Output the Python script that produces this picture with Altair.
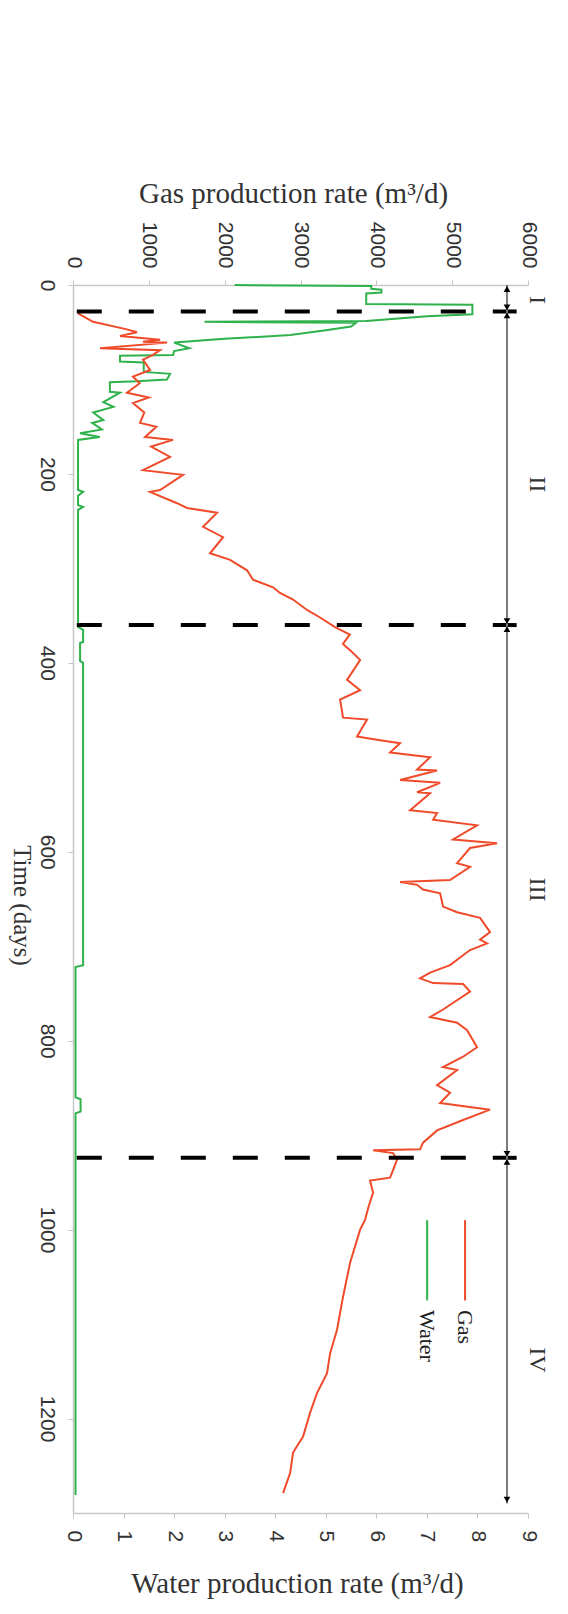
import altair as alt
import pandas as pd

RED = "#ef4a2a"
GREEN = "#2fb24c"
SERIF = "Liberation Serif"
SANS = "Liberation Sans"

# ---- data ----
gas_t = [30, 39, 47, 50, 54, 58, 60, 61, 67, 69, 74, 79, 90, 97, 104, 114, 119, 125, 135, 146,
         150, 161, 164, 171, 182, 196, 201, 217, 219, 231, 236, 241, 256, 267, 284, 291, 302, 312,
         320, 326, 333, 344, 352, 362, 370, 380, 390, 397, 418, 429, 439, 458, 460, 478, 482, 485,
         495, 500, 513, 514, 524, 527, 537, 538, 556, 559, 566, 572, 587, 591, 596, 612, 616, 630,
         632, 635, 640, 644, 658, 664, 670, 685, 693, 697, 704, 720, 728, 734, 739, 740, 748, 767,
         775, 781, 789, 807, 817, 828, 831, 847, 855, 866, 873, 884, 895, 908, 915, 916, 919, 926,
         937, 945, 948, 961, 975, 990, 1000, 1035, 1071, 1106, 1131, 1152, 1173, 1194, 1219, 1236,
         1258, 1279]
gas_v = [66, 264, 712, 844, 620, 1148, 923, 1240, 356, 1148, 1055, 923, 1016, 791, 880, 712, 1000,
         791, 940, 884, 1100, 950, 1319, 1030, 1280, 923, 1451, 1148, 1016, 1372, 1504, 1900, 1715,
         1979, 1807, 2071, 2295, 2374, 2638, 2730, 2902, 3086, 3258, 3450, 3650, 3560, 3700, 3786,
         3614, 3786, 3522, 3561, 3878, 3746, 4050, 4313, 4181, 4709, 4537, 4801, 4313, 4841, 4537,
         4709, 4445, 4801, 4749, 5328, 5012, 5592, 5236, 5065, 5236, 4972, 4313, 4537, 4616, 4841,
         4880, 5065, 5368, 5500, 5368, 5460, 5236, 4972, 4709, 4577, 4749, 5144, 5236, 4880, 4709,
         5065, 5197, 5328, 5144, 4880, 5065, 4801, 4972, 4841, 5500, 5144, 4801, 4616, 4577, 3957,
         4221, 4273, 4221, 4181, 3917, 3957, 3900, 3850, 3786, 3654, 3561, 3482, 3390, 3350, 3218,
         3126, 3034, 2902, 2862, 2770]

water_t = [0, 1, 4, 5, 8, 9, 20, 21, 31, 33, 38, 39, 40, 44, 48, 53, 57, 61, 67, 70, 74, 75, 81,
           82, 92, 94, 100, 102, 103, 113, 114, 124, 129, 135, 143, 146, 153, 157, 161, 164, 217,
           219, 223, 233, 235, 238, 362, 365, 378, 379, 398, 400, 720, 722, 860, 862, 875, 877, 1281]
water_v = [3.2, 5.9, 5.9, 6.1, 6.1, 5.8, 5.8, 7.9, 7.9, 7.0, 5.8, 2.6, 5.6, 5.5, 5.0, 4.3, 3.0,
           2.0, 2.3, 2.0, 1.98, 0.93, 0.93, 1.4, 1.4, 1.92, 1.86, 1.27, 0.73, 0.73, 0.93, 0.6, 0.8,
           0.4, 0.6, 0.38, 0.57, 0.14, 0.53, 0.1, 0.1, 0.2, 0.1, 0.1, 0.2, 0.1, 0.1, 0.2, 0.2, 0.14,
           0.14, 0.2, 0.2, 0.05, 0.05, 0.15, 0.15, 0.05, 0.05]

time_ticks = [0, 200, 400, 600, 800, 1000, 1200]
gas_ticks = [0, 1000, 2000, 3000, 4000, 5000, 6000]
water_ticks = [0, 1, 2, 3, 4, 5, 6, 7, 8, 9]

boundaries = [28, 360, 924]
phase_start = [0, 28, 360, 924]
phase_end = [28, 360, 924, 1290]
phase_names = ["I", "II", "III", "IV"]
phase_label_t = [16, 211, 640, 1138]

legend_names = ["Gas", "Water"]
legend_colors = [RED, GREEN]
legend_x = [5170, 4670]
legend_t0 = 990
legend_t1 = 1075
legend_text_t = 1085

arrow_x = 5723
phase_label_x = 6120
dash_x0 = 50
dash_x1 = 5850

# ---- tables ----
gas_df = pd.DataFrame({"t": gas_t, "v": gas_v})
water_df = pd.DataFrame({"t": water_t, "v": water_v})
bound_df = pd.DataFrame({"t": boundaries, "x0": [dash_x0] * len(boundaries), "x1": [dash_x1] * len(boundaries)})
arrow_df = pd.DataFrame({"t": [phase_start[0]], "t2": [phase_end[-1]], "x": [arrow_x]})
up_df = pd.DataFrame({"t": phase_start, "x": [arrow_x] * len(phase_start)})
down_df = pd.DataFrame({"t": phase_end, "x": [arrow_x] * len(phase_end)})
label_df = pd.DataFrame({"t": phase_label_t, "x": [phase_label_x] * 4, "name": phase_names})
leg_df = pd.DataFrame({"x": legend_x, "t": [legend_t0] * 2, "t2": [legend_t1] * 2,
                       "tt": [legend_text_t] * 2, "name": legend_names, "c": legend_colors})

# ---- scales & axes ----
gas_scale = alt.Scale(domain=[0, 6000], nice=False, zero=False)
water_scale = alt.Scale(domain=[0, 9], nice=False, zero=False)
time_scale = alt.Scale(domain=[0, 1300], nice=False, zero=False, reverse=True)

common = dict(labelFont=SANS, labelFontSize=21, labelColor="#333", tickSize=5,
              tickColor="#c4c4c4", domainColor="#c8c8c8", domainWidth=1.5, grid=False,
              labelOverlap=False, format="d", titleFont=SERIF, titleFontWeight="normal",
              titleColor="#333", titleAlign="center", titleBaseline="middle")

time_axis = alt.Axis(orient="left", values=time_ticks, labelAngle=90, labelAlign="center",
                     labelBaseline="middle", labelPadding=22, title="Time (days)",
                     titleFontSize=25, titleAngle=90, titleX=-52, titleY=620, **common)
gas_axis = alt.Axis(orient="top", values=gas_ticks, labelAngle=90, labelAlign="right",
                    labelBaseline="middle", labelPadding=12, title="Gas production rate (m³/d)",
                    titleFontSize=29, titleAngle=0, titleX=220, titleY=-92, **common)
water_axis = alt.Axis(orient="bottom", values=water_ticks, labelAngle=90, labelAlign="left",
                      labelBaseline="middle", labelPadding=12, title="Water production rate (m³/d)",
                      titleFontSize=29, titleAngle=0, titleX=224, titleY=70, **common)


def Y(field="t"):
    return alt.Y(f"{field}:Q", scale=time_scale, axis=time_axis)


def XG(field):
    return alt.X(f"{field}:Q", scale=gas_scale, axis=gas_axis)


gas_line = alt.Chart(gas_df).mark_line(color=RED, strokeWidth=2).encode(
    x=XG("v"), y=Y(), order=alt.Order("t:Q"))

dashes = alt.Chart(bound_df).mark_rule(color="black", strokeWidth=4, strokeDash=[25, 27]).encode(
    x=XG("x0"), x2="x1:Q", y=Y())

arrow_line = alt.Chart(arrow_df).mark_rule(color="#7a7a7a", strokeWidth=2).encode(
    x=XG("x"), y=Y(), y2="t2:Q")

up_heads = alt.Chart(up_df).mark_point(shape="triangle-up", filled=True, color="black",
                                       size=45, opacity=1, yOffset=4).encode(x=XG("x"), y=Y())
down_heads = alt.Chart(down_df).mark_point(shape="triangle-down", filled=True, color="black",
                                           size=45, opacity=1, yOffset=-4).encode(x=XG("x"), y=Y())

phase_text = alt.Chart(label_df).mark_text(angle=90, align="center", baseline="middle",
                                           font=SERIF, fontSize=24, color="#333").encode(
    x=XG("x"), y=Y(), text="name:N")

leg_lines = alt.Chart(leg_df).mark_rule(strokeWidth=2).encode(
    x=XG("x"), y=Y(), y2="t2:Q", color=alt.Color("c:N", scale=None))
leg_text = alt.Chart(leg_df).mark_text(angle=90, align="left", baseline="middle",
                                       font=SERIF, fontSize=22, color="#222").encode(
    x=XG("x"), y=Y("tt"), text="name:N")

gas_group = alt.layer(gas_line, dashes, arrow_line, up_heads, down_heads, phase_text,
                      leg_lines, leg_text)

water_line = alt.Chart(water_df).mark_line(color=GREEN, strokeWidth=2).encode(
    x=alt.X("v:Q", scale=water_scale, axis=water_axis), y=Y(), order=alt.Order("t:Q"))

chart = alt.layer(water_line, gas_group).resolve_scale(x="independent").resolve_axis(
    x="independent").properties(
    width=455, height=1228,
    autosize=alt.AutoSizeParams(type="none"),
    padding={"left": 65, "top": 277, "right": 32, "bottom": 93},
).configure_view(stroke=None)

chart.save("out.html", embed_options={"renderer": "svg", "actions": False})
